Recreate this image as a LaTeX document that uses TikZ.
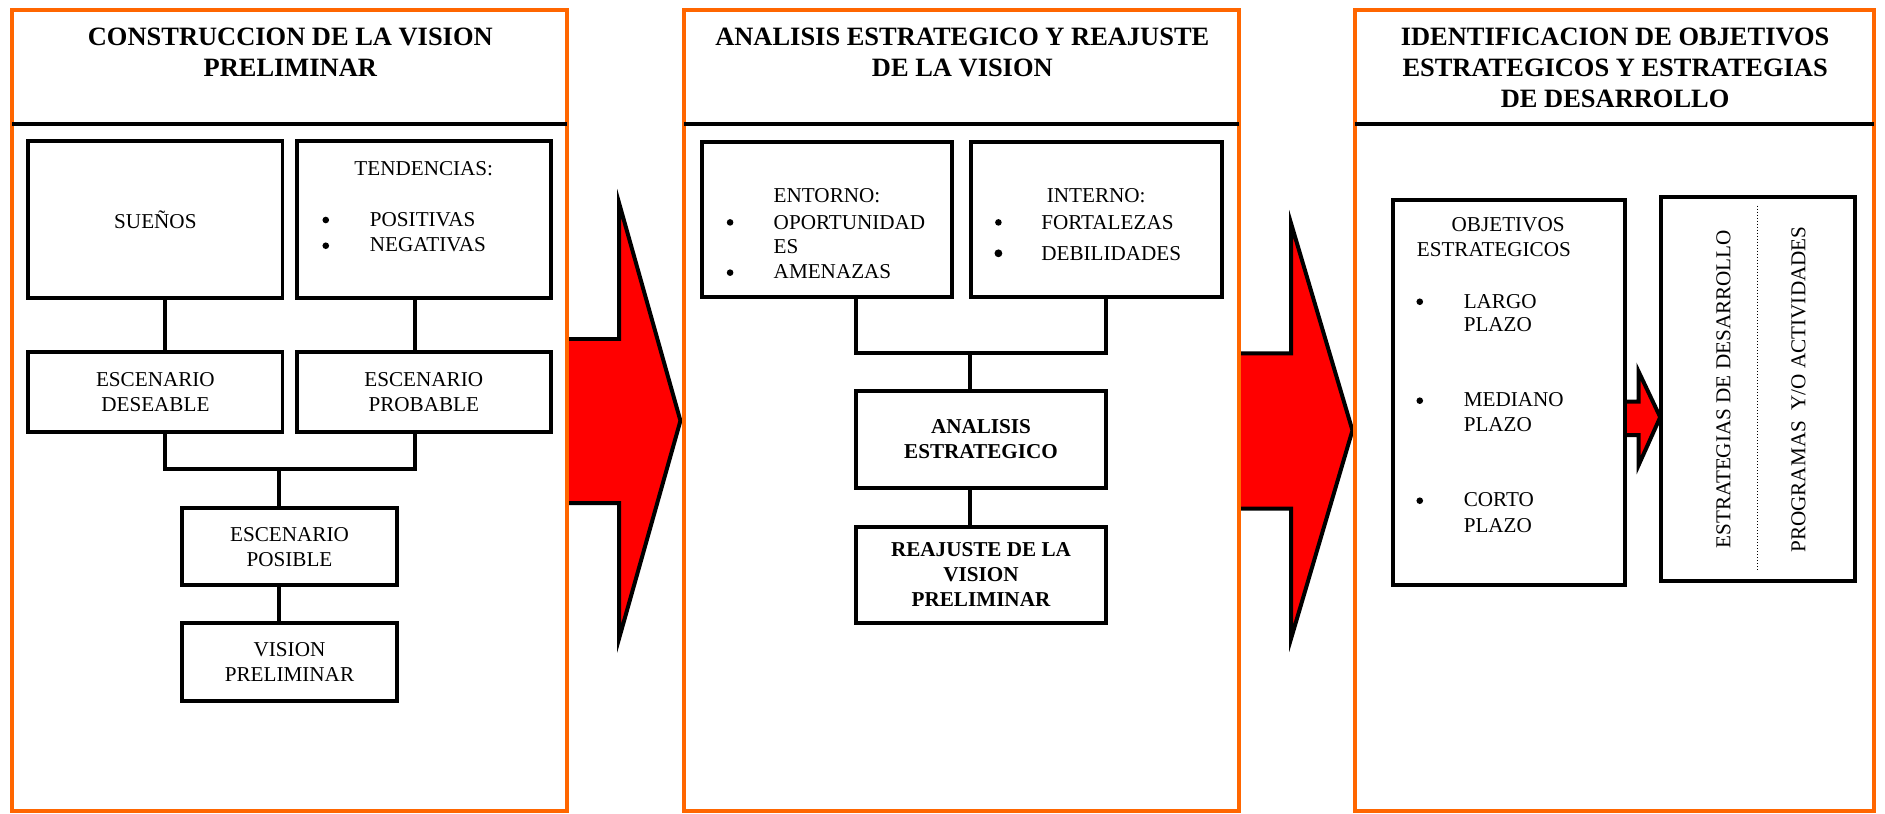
\documentclass[tikz,border=0pt]{standalone}
\usepackage{fontspec}
\setmainfont{Liberation Serif}
\definecolor{orng}{HTML}{FF6600}
\definecolor{arrred}{HTML}{FF0000}
\newcommand{\normtxt}{\fontsize{17.6}{20.8}\selectfont}
\newcommand{\boldtxt}{\fontsize{17.6}{20.6}\selectfont\bfseries}
\newcommand{\headtxt}{\fontsize{22}{25.8}\selectfont\bfseries}
\tikzset{
  panel/.style={draw=orng, line width=3.3pt, fill=white, inner sep=0pt},
  hline/.style={line width=3.5pt},
  box/.style={draw, line width=3.3pt, fill=white, inner sep=0pt, align=center, font=\normtxt},
  conn/.style={line width=3.3pt, line join=miter},
  bigarrow/.style={draw, fill=arrred, line width=3.3pt, line join=miter},
  hd/.style={font=\headtxt, anchor=base, inner sep=0pt},
  tx/.style={font=\normtxt, anchor=base west, inner sep=0pt},
  txc/.style={font=\normtxt, anchor=base, inner sep=0pt},
  bul/.style={circle, fill, inner sep=0pt, minimum size=5.5pt},
  vtx/.style={font=\normtxt, anchor=base, inner sep=0pt, rotate=90},
}
\begin{document}
\begin{tikzpicture}[x=1pt,y=-1pt]
\useasboundingbox (0,0) rectangle (1568,677);
% big arrows (behind panels)
\draw[bigarrow] (460,282) -- (515,282) -- (515,169) -- (566,350) -- (515,531) -- (515,418.6) -- (460,418.6) -- cycle;
\draw[bigarrow] (1020,294) -- (1074,294) -- (1074,186) -- (1125,358) -- (1074,531) -- (1074,423) -- (1020,423) -- cycle;
% panels
\node[panel, minimum width=462pt, minimum height=666.5pt] (p1) at (241,341.75) {};
\node[panel, minimum width=462pt, minimum height=666.5pt] (p2) at (800,341.75) {};
\node[panel, minimum width=432pt, minimum height=666.5pt] (p3) at (1343,341.75) {};
\draw[hline] (10,103) -- (472,103);
\draw[hline] (569,103) -- (1031,103);
\draw[hline] (1127,103) -- (1559,103);
% headers
\node[hd] (h1a) at (241.5,38) {CONSTRUCCION DE LA VISION};
\node[hd] (h1b) at (241.5,63.8) {PRELIMINAR};
\node[hd] (h2a) at (800.5,38) {ANALISIS ESTRATEGICO Y REAJUSTE};
\node[hd] (h2b) at (800.5,64) {DE LA VISION};
\node[hd] (h3a) at (1343.5,38) {IDENTIFICACION DE OBJETIVOS};
\node[hd] (h3b) at (1343.5,63.8) {ESTRATEGICOS Y ESTRATEGIAS};
\node[hd] (h3c) at (1343.5,89.6) {DE DESARROLLO};
% small arrow
\draw[bigarrow] (1345,334) -- (1363,334) -- (1363,309) -- (1381,347) -- (1363,387) -- (1363,362) -- (1345,362) -- cycle;
% panel 1 boxes
\node[box, minimum width=211.5pt, minimum height=131pt] (sue) at (129.25,182.5) {SUEÑOS};
\node[box, minimum width=211pt, minimum height=131pt] (ten) at (352.5,182.5) {};
\node[box, minimum width=211.5pt, minimum height=66pt] (des) at (129.25,326) {ESCENARIO\\DESEABLE};
\node[box, minimum width=211pt, minimum height=66pt] (prob) at (352.5,326) {ESCENARIO\\PROBABLE};
\node[box, minimum width=178.4pt, minimum height=64.2pt] (pos) at (240.8,454.7) {ESCENARIO\\POSIBLE};
\node[box, minimum width=178.4pt, minimum height=65pt] (vis) at (240.8,550.5) {VISION\\PRELIMINAR};
\node[txc] (tenT) at (352.5,145.6) {TENDENCIAS:};
\node[bul] (tb1) at (271,183) {};
\node[bul] (tb2) at (271,204.4) {};
\node[tx] (tpos) at (307.5,188.6) {POSITIVAS};
\node[tx] (tneg) at (307.5,209.4) {NEGATIVAS};
\coordinate (j1) at (137,390);
\coordinate (j2) at (345,390);
\coordinate (jm) at (232,390);
\draw[conn] (sue.south -| j1) -- (des.north -| j1);
\draw[conn] (ten.south -| j2) -- (prob.north -| j2);
\draw[conn] (des.south -| j1) -- (j1) -- (j2) -- (prob.south -| j2);
\draw[conn] (jm) -- (pos.north -| jm);
\draw[conn] (pos.south -| jm) -- (vis.north -| jm);
% panel 2 boxes
\node[box, minimum width=208pt, minimum height=129pt] (ent) at (688,182.5) {};
\node[box, minimum width=208.8pt, minimum height=129pt] (int) at (912.1,182.5) {};
\node[box, font=\boldtxt, minimum width=208pt, minimum height=81pt] (ana) at (816,365.5) {ANALISIS\\ESTRATEGICO};
\node[box, font=\boldtxt, minimum width=208pt, minimum height=80pt] (rea) at (816,478) {REAJUSTE DE LA\\VISION\\PRELIMINAR};
\node[tx] (entT) at (643.4,168.3) {ENTORNO:};
\node[bul] (eb1) at (607.3,185) {};
\node[tx] (eop) at (643.4,190.8) {OPORTUNIDAD};
\node[tx] (ees) at (643.4,210.7) {ES};
\node[bul] (eb2) at (607.3,226.8) {};
\node[tx] (eam) at (643.4,231.5) {AMENAZAS};
\node[tx] (intT) at (870.6,168.3) {INTERNO:};
\node[bul] (ib1) at (830.5,185) {};
\node[tx] (ifo) at (866,190.8) {FORTALEZAS};
\node[bul, minimum size=6.5pt] (ib2) at (830.5,210.7) {};
\node[tx] (ide) at (866,217) {DEBILIDADES};
\coordinate (k1) at (712,294);
\coordinate (k2) at (920,294);
\coordinate (km) at (807,294);
\draw[conn] (ent.south -| k1) -- (k1) -- (k2) -- (int.south -| k2);
\draw[conn] (km) -- (ana.north -| km);
\draw[conn] (ana.south -| km) -- (rea.north -| km);
% panel 3 boxes
\node[box, minimum width=192.5pt, minimum height=320.6pt] (obj) at (1255.25,326.3) {};
\node[box, minimum width=161pt, minimum height=319.4pt] (est) at (1462.5,323.3) {};
\coordinate (d1) at (1462,171);
\coordinate (d2) at (1462,474);
\draw[line width=1pt, dash pattern=on 1pt off 1.5pt] (d1) -- (d2);
\node[txc] (oT1) at (1254.5,192.7) {OBJETIVOS};
\node[txc] (oT2) at (1242.6,213.5) {ESTRATEGICOS};
\node[bul] (ob1) at (1181,251) {};
\node[bul] (ob2) at (1181,333.3) {};
\node[bul] (ob3) at (1181,416.5) {};
\node[tx] (ol1) at (1217.4,256.5) {LARGO};
\node[tx] (ol2) at (1217.4,276) {PLAZO};
\node[tx] (om1) at (1217.4,338.3) {MEDIANO};
\node[tx] (om2) at (1217.4,359) {PLAZO};
\node[tx] (oc1) at (1217.4,421.5) {CORTO};
\node[tx] (oc2) at (1217.4,442.8) {PLAZO};
\node[vtx] (estT) at (1439.4,323.8) {ESTRATEGIAS DE DESARROLLO};
\node[vtx] (prgT) at (1501.8,324) {PROGRAMAS\ \ Y/O ACTIVIDADES};
\end{tikzpicture}
\end{document}
